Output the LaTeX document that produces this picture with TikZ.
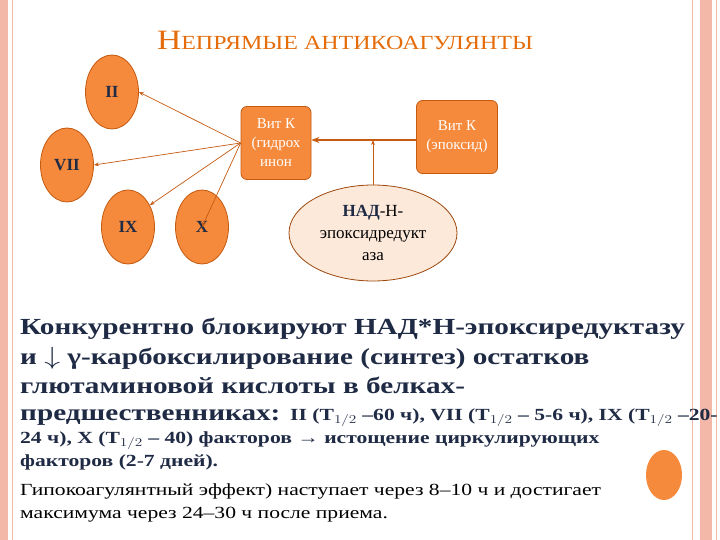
\documentclass[tikz,border=0pt]{standalone}
\usepackage{fontspec}
\setmainfont{Liberation Serif}
\usetikzlibrary{shapes.geometric,arrows.meta}
\definecolor{org}{HTML}{F58A3C}
\definecolor{orgd}{HTML}{C55A11}
\definecolor{ttl}{HTML}{E46C0A}
\definecolor{peach}{HTML}{FCE9DA}
\definecolor{navy}{HTML}{1F2A44}
\definecolor{pinkb}{HTML}{F4B8A8}
\newcommand{\wide}[1]{\scalebox{1.27}[1]{#1}}
\tikzset{
 fac/.style={ellipse,draw=orgd,fill=org,line width=0.8pt,minimum width=53pt,minimum height=74pt,inner sep=0pt,font=\fontsize{17}{17}\selectfont\bfseries,text=navy},
 vk/.style={rectangle,rounded corners=6pt,draw=orgd,fill=org,line width=0.8pt,minimum width=70pt,minimum height=73pt,align=center,text=white,font=\fontsize{15}{19}\selectfont},
 con/.style={draw=orgd,line width=0.7pt,-{Stealth[length=5pt]}},
 big/.style={anchor=base west,text=navy,font=\fontsize{23}{24}\selectfont\bfseries,inner sep=0pt},
 mid/.style={anchor=base west,text=navy,font=\fontsize{17}{18}\selectfont\bfseries,inner sep=0pt},
 sml/.style={anchor=base west,text=black,font=\fontsize{17}{18}\selectfont,inner sep=0pt}
}
\begin{document}
\begin{tikzpicture}[x=1pt,y=-1pt]
\useasboundingbox (0,0) rectangle (720,540);
\fill[white] (0,0) rectangle (720,540);
\fill[pinkb] (0,0) rectangle (8,540);
\draw[pinkb,line width=1pt] (12,0) -- (12,540);
\draw[pinkb,line width=1pt] (692,0) -- (692,540);
\fill[pinkb] (700,0) rectangle (712,540);
\draw[pinkb,line width=1pt] (716,0) -- (716,540);
\node (title) at (345,40) {\scalebox{1.2}[1]{\color{ttl}\fontsize{28}{28}\selectfont Н\fontsize{20}{20}\selectfont ЕПРЯМЫЕ АНТИКОАГУЛЯНТЫ}};
\node[fac] (f2) at (112,92) {II};
\node[fac] (f7) at (67,165) {VII};
\node[fac] (f9) at (128,227) {IX};
\node[fac] (f10) at (202,227) {X};
\node[vk] (vh) at (276,143) {Вит К\\(гидрох\\инон};
\node[vk,minimum width=81pt] (ve) at (457,137) {Вит К\\(эпоксид)};
\node[ellipse,draw=orgd!80!black,fill=peach,line width=0.8pt,minimum width=168pt,minimum height=96pt,inner sep=0pt,align=center,font=\fontsize{17}{22}\selectfont] (nad) at (373,233) {{\bfseries\color{navy}НАД}-Н-\\эпоксидредукт\\аза};
\coordinate (j) at (373,140);
\draw[orgd,line width=2pt,-{Stealth[length=8pt]}] (ve.west |- j) -- (vh.east |- j);
\draw[con] (nad.north) -- (j);
\coordinate (o) at (vh.west);
\draw[con] (o) -- (f2.east);
\draw[con] (o) -- (f7.east);
\draw[con] (o) -- (f9.45);
\draw[con] (o) -- (f10.center);
\node[big] (l1) at (20,334) {\wide{Конкурентно блокируют НАД*Н-эпоксиредуктазу}};
\node[big] (l2) at (20,364) {\wide{и $\downarrow$ γ-карбоксилирование (синтез) остатков}};
\node[big] (l3) at (20,393) {\wide{глютаминовой кислоты  в белках-}};
\node[big] (l4) at (20,420) {\wide{предшественниках: {\fontsize{17}{18}\selectfont II (T$_{1/2}$ –60 ч), VII (T$_{1/2}$ – 5-6 ч), IX (T$_{1/2}$ –20-}}};
\node[mid] (l5) at (20,443) {\wide{24 ч), X (T$_{1/2}$ – 40) факторов → истощение циркулирующих}};
\node[mid] (l6) at (20,466) {\wide{факторов  (2-7 дней).}};
\node[sml] (l7) at (20,495) {\wide{Гипокоагулянтный эффект) наступает через 8–10 ч и достигает}};
\node[sml] (l8) at (20,518) {\wide{максимума через 24–30 ч после приема.}};
\fill[org] (664,475) ellipse (18 and 25);
\end{tikzpicture}
\end{document}
